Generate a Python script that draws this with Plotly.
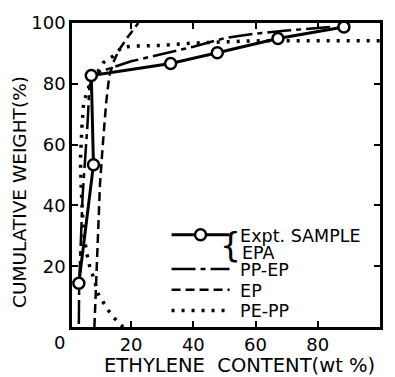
import plotly.graph_objects as go

# ---- data ----
expt_x = [3.2, 7.9, 7.2, 32.7, 47.7, 67.2, 88.4]
expt_y = [14.4, 53.4, 82.7, 86.7, 90.2, 94.9, 98.7]

ppep_x = [3.2, 3.3, 4.4, 5.3, 6.0, 6.6, 7.5, 10, 20, 30, 40, 50, 60, 70, 85]
ppep_y = [1, 14, 43, 55, 67, 79, 82, 84, 87.4, 89.8, 92.2, 95.0, 96.5, 97.5, 98.8]

ep_x = [8.2, 9.0, 9.6, 10.0, 10.9, 12.0, 13.0, 14.5, 15.9, 19.0, 22.3]
ep_y = [0, 20, 40, 47, 60, 74, 82.7, 87.5, 90.8, 95.5, 100]

pepp_x = [17.5, 16.2, 14.1, 12.5, 10.9, 9.3, 8.2, 6.6, 5.6, 4.6, 4.0, 3.7, 4.2, 4.7,
          5.8, 7.9, 9.5, 11.1, 14.3, 17.0, 20.6, 25.1, 29.3, 34.7, 40, 50, 58, 70, 85, 100]
pepp_y = [0, 1.1, 3.5, 5.7, 8.4, 11.1, 15.4, 20.3, 25, 32, 45, 55, 66, 73.4,
          77.2, 83.2, 84.3, 87.0, 89.2, 92.0, 92.4, 92.5, 92.6, 93.0, 93.4, 93.8,
          94.1, 94.2, 94.2, 94.2]

x_ticks = [20, 40, 60, 80, 100]
y_ticks = [20, 40, 60, 80, 100]

names = ["Expt. SAMPLE", "PP-EP", "EP", "PE-PP"]

FONT = "DejaVu Sans"
NB = "\u00a0"
LFS = 17.5

fig = go.Figure()
fig.add_trace(go.Scatter(x=ppep_x, y=ppep_y, mode="lines", name=NB + names[1],
                         legend="legend2",
                         line=dict(color="black", width=2.5, dash="24px,5px,5px,5px")))
fig.add_trace(go.Scatter(x=ep_x, y=ep_y, mode="lines", name=NB + names[2],
                         legend="legend3",
                         line=dict(color="black", width=2.5, dash="9px,5px")))
fig.add_trace(go.Scatter(x=pepp_x, y=pepp_y, mode="lines", name=NB + names[3],
                         legend="legend4",
                         line=dict(color="black", width=3.5, dash="3px,7px")))
fig.add_trace(go.Scatter(x=expt_x, y=expt_y, mode="lines+markers", name=NB + names[0],
                         legend="legend",
                         line=dict(color="black", width=3),
                         marker=dict(symbol="circle", size=11, color="white",
                                     line=dict(color="black", width=2.5))))

LX = 0.307
def leg(ypos):
    return dict(x=LX, y=ypos, xanchor="left", yanchor="top",
                bgcolor="rgba(0,0,0,0)", font=dict(family=FONT, size=LFS),
                itemwidth=58)

fig.update_layout(
    width=395, height=377,
    margin=dict(l=72, r=14, t=20, b=50),
    paper_bgcolor="white", plot_bgcolor="white",
    font=dict(family=FONT, color="black", size=18),
    showlegend=True,
    legend=leg(0.362), legend2=leg(0.250), legend3=leg(0.181), legend4=leg(0.113),
    xaxis=dict(range=[1, 100], tickvals=x_ticks, showgrid=False, zeroline=False,
               showline=True, linecolor="black", linewidth=2.5, mirror="ticks",
               ticks="inside", ticklen=6, tickwidth=2, tickcolor="black",
               tickfont=dict(family=FONT, size=18)),
    yaxis=dict(range=[0, 100], tickvals=y_ticks, showgrid=False, zeroline=False,
               showline=True, linecolor="black", linewidth=2.5, mirror="ticks",
               ticks="inside", ticklen=6, tickwidth=2, tickcolor="black",
               tickfont=dict(family=FONT, size=18)),
    annotations=[
        dict(text="0", xref="paper", yref="paper", x=-0.039, y=-0.052,
             showarrow=False, font=dict(family=FONT, size=18), xanchor="center", yanchor="middle"),
        dict(text="ETHYLENE  CONTENT(wt %)", xref="paper", yref="paper", x=0.544,
             y=(327 - 365.5) / 307,
             showarrow=False, font=dict(family=FONT, size=19.5), xanchor="center", yanchor="middle"),
        dict(text="CUMULATIVE WEIGHT(%)", xref="paper", yref="paper", x=-0.17, y=0.443,
             showarrow=False, textangle=-90, font=dict(family=FONT, size=18.5),
             xanchor="center", yanchor="middle"),
        dict(text="EPA", xref="paper", yref="paper", x=(241 - 72) / 309, y=(327 - 252) / 307,
             showarrow=False, font=dict(family=FONT, size=LFS), xanchor="left", yanchor="middle"),
        dict(text="{", xref="paper", yref="paper", x=(231 - 72) / 309, y=(327 - 245) / 307,
             showarrow=False, font=dict(family=FONT, size=33), xanchor="center", yanchor="middle"),
    ],
)

fig.write_html("out.html")
